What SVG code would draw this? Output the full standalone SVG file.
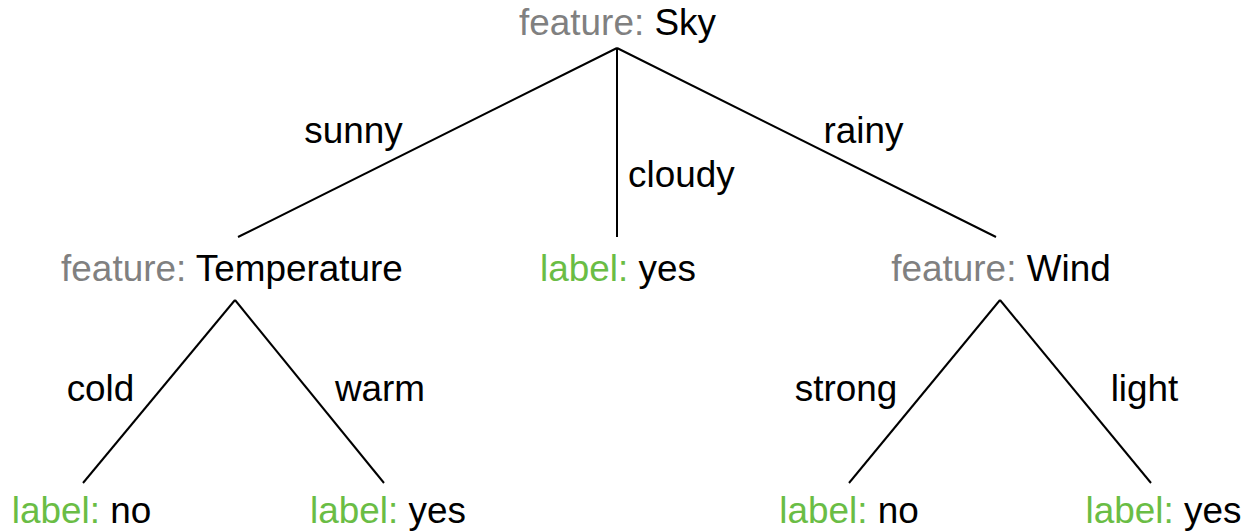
<svg xmlns="http://www.w3.org/2000/svg" width="1246" height="532" viewBox="0 0 1246 532">
  <style>
    text { font-family: "Liberation Sans", Arial, sans-serif; font-size: 36.9px; fill: #000; text-anchor: middle; }
    .key { fill: #808080; }
    .leaf { fill: #6abd45; }
    .edge { stroke: #000; stroke-width: 2; fill: none; }
  </style>
  <rect width="1246" height="532" fill="#fff"/>

  <!-- connectors -->
  <g id="connectors">
    <line class="edge" x1="617" y1="48" x2="238" y2="237"/>
    <line class="edge" x1="617" y1="48" x2="617" y2="237"/>
    <line class="edge" x1="617" y1="48" x2="996" y2="237"/>
    <line class="edge" x1="235" y1="300" x2="83" y2="483"/>
    <line class="edge" x1="235" y1="300" x2="384" y2="483"/>
    <line class="edge" x1="1000" y1="300" x2="849" y2="483"/>
    <line class="edge" x1="1000" y1="300" x2="1151" y2="483"/>
  </g>

  <!-- branch labels -->
  <g id="edge-labels">
    <text x="353.5" y="143">sunny</text>
    <text x="628" y="187" style="text-anchor:start">cloudy</text>
    <text x="863.5" y="143">rainy</text>
    <text x="100.5" y="401">cold</text>
    <text x="380" y="401">warm</text>
    <text x="846" y="401">strong</text>
    <text x="1144.5" y="401">light</text>
  </g>

  <g id="node-sky"><text x="617.5" y="35"><tspan class="key">feature:</tspan> Sky</text></g>
  <g id="node-temperature"><text x="232" y="281"><tspan class="key">feature:</tspan> Temperature</text></g>
  <g id="node-cloudy-yes"><text x="618" y="281"><tspan class="leaf">label:</tspan> yes</text></g>
  <g id="node-wind"><text x="1001" y="281"><tspan class="key">feature:</tspan> Wind</text></g>
  <g id="node-cold-no"><text x="81.5" y="523"><tspan class="leaf">label:</tspan> no</text></g>
  <g id="node-warm-yes"><text x="388" y="523"><tspan class="leaf">label:</tspan> yes</text></g>
  <g id="node-strong-no"><text x="849" y="523"><tspan class="leaf">label:</tspan> no</text></g>
  <g id="node-light-yes"><text x="1163.5" y="523"><tspan class="leaf">label:</tspan> yes</text></g>
</svg>
